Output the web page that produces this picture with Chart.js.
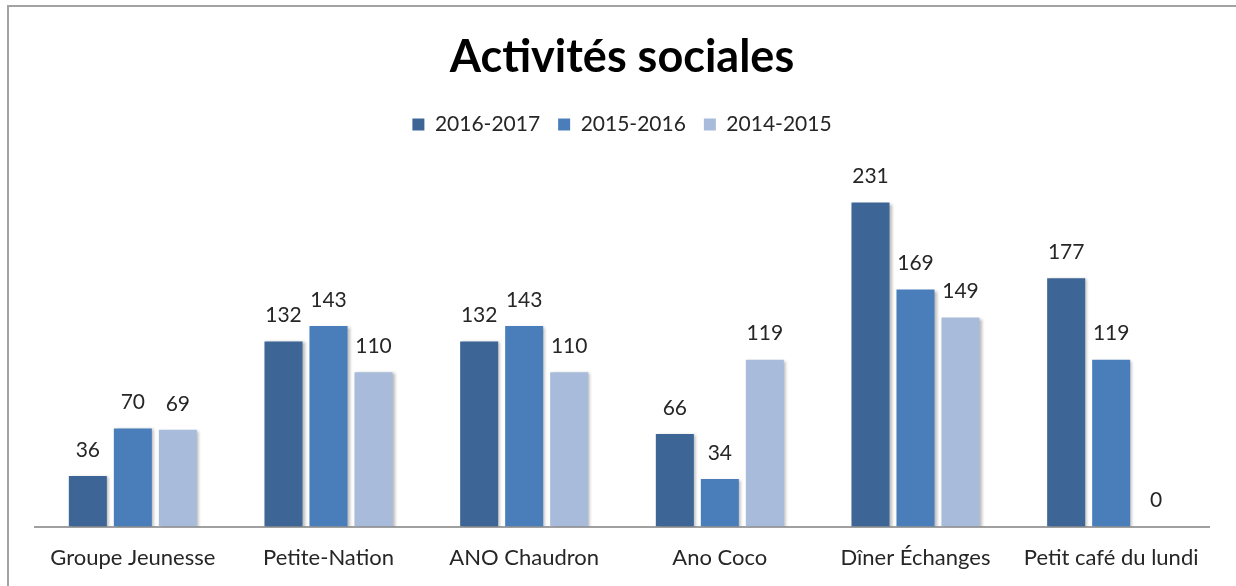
<!DOCTYPE html>
<html>
<head>
<meta charset="utf-8">
<script src="https://cdn.jsdelivr.net/npm/chart.js@4"></script>
<style>
  html, body { margin: 0; padding: 0; background: #fff; overflow: hidden; }
  #frame { position: absolute; left: 7px; top: 5px; width: 1300px; height: 700px; border: 2px solid #a3a3a3; box-sizing: border-box; }
  #wrap { position: absolute; left: 0; top: 0; width: 1236px; height: 586px; }
</style>
</head>
<body>
<div id="frame"></div>
<div id="wrap"><canvas id="chart"></canvas></div>
<script>
const CATEGORIES = ['Groupe Jeunesse', 'Petite-Nation', 'ANO Chaudron', 'Ano Coco', 'Dîner Échanges', 'Petit café du lundi'];
const SERIES_NAMES = ['2016-2017', '2015-2016', '2014-2015'];
const VALUES_2016_2017 = [36, 132, 132, 66, 231, 177];
const VALUES_2015_2016 = [70, 143, 143, 34, 169, 119];
const VALUES_2014_2015 = [69, 110, 110, 119, 149, 0];
const COLORS = ['#3d6696', '#4a7ebb', '#a9bbda'];

const FONT = 'Lato, "Liberation Sans", sans-serif';

// bars get a soft shadow like the office chart
const shadowPlugin = {
    id: 'barShadow',
    beforeDatasetsDraw(chart) {
        const ctx = chart.ctx;
        ctx.save();
        ctx.shadowColor = 'rgba(0,0,0,0.28)';
        ctx.shadowOffsetX = 2;
        ctx.shadowOffsetY = 1;
        ctx.shadowBlur = 3;
    },
    afterDatasetsDraw(chart) {
        chart.ctx.restore();
    }
};

// value labels above each bar
const valueLabels = {
    id: 'valueLabels',
    afterDatasetsDraw(chart) {
        const ctx = chart.ctx;
        ctx.save();
        ctx.font = '21px ' + FONT;
        ctx.fillStyle = '#262626';
        ctx.textAlign = 'center';
        ctx.textBaseline = 'middle';
        chart.data.datasets.forEach((ds, i) => {
            chart.getDatasetMeta(i).data.forEach((bar, j) => {
                ctx.fillText(String(ds.data[j]), bar.x, bar.y - 26);
            });
        });
        ctx.restore();
    }
};

new Chart(document.getElementById('chart'), {
    type: 'bar',
    data: {
        labels: CATEGORIES,
        datasets: [
            { label: SERIES_NAMES[0], data: VALUES_2016_2017, backgroundColor: COLORS[0] },
            { label: SERIES_NAMES[1], data: VALUES_2015_2016, backgroundColor: COLORS[1] },
            { label: SERIES_NAMES[2], data: VALUES_2014_2015, backgroundColor: COLORS[2] },
        ]
    },
    options: {
        responsive: true,
        maintainAspectRatio: false,
        animation: false,
        layout: {
            padding: { left: 35, right: 27, top: 14, bottom: 5 }
        },
        datasets: {
            bar: {
                categoryPercentage: 0.69,
                barPercentage: 0.845,
            }
        },
        scales: {
            x: {
                grid: { display: false },
                border: { display: true, color: '#a0a0a0', width: 2 },
                ticks: {
                    color: '#262626',
                    padding: 10,
                    font: { family: FONT, size: 22 },
                    maxRotation: 0,
                    autoSkip: false,
                }
            },
            y: {
                display: false,
                min: 0,
                max: 272,
            }
        },
        plugins: {
            title: {
                display: true,
                text: 'Activités sociales',
                color: '#000',
                font: { family: FONT, size: 45, weight: 'bold' },
                padding: { top: 16, bottom: 12 }
            },
            legend: {
                display: true,
                labels: {
                    color: '#262626',
                    boxWidth: 12,
                    boxHeight: 12,
                    padding: 18,
                    font: { family: FONT, size: 21 }
                }
            },
            tooltip: { enabled: false }
        }
    },
    plugins: [shadowPlugin, valueLabels]
});
</script>
</body>
</html>
